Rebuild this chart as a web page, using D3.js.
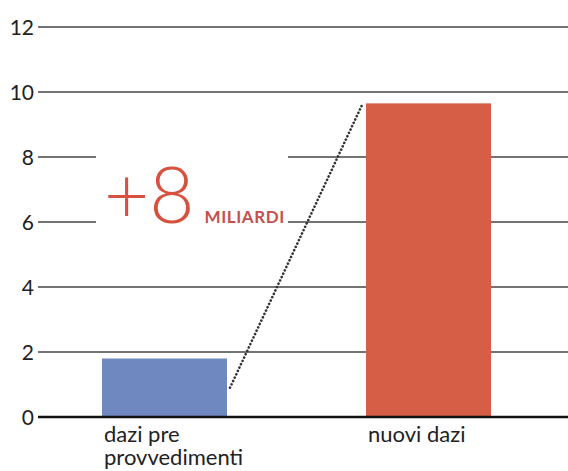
<!DOCTYPE html>
<html>
<head>
<meta charset="utf-8">
<script src="https://cdn.jsdelivr.net/npm/d3@7"></script>
<style>
  body { margin: 0; background: #fff; }
  svg { display: block; }
  text { font-family: Lato, "Open Sans", sans-serif; }
  .tick-label { font-size: 21px; fill: #222; font-weight: 400; }
  .cat-label { font-size: 22px; fill: #222; font-weight: 400; }
  .grid { stroke: #444; stroke-width: 1.5; }
  .base-line { stroke: #111; stroke-width: 2.5; }
  .connector { stroke: #333; stroke-width: 2.6; stroke-dasharray: 0.1 3.6; stroke-linecap: round; fill: none; }
</style>
</head>
<body>
<script>
var categories = ['dazi pre provvedimenti', 'nuovi dazi']
var labelLines = [['dazi pre', 'provvedimenti'], ['nuovi dazi']]
var values = [1.8, 9.65]
var colors = ['#7088c0', '#d65d46']
var yTicks = [0, 2, 4, 6, 8, 10, 12]
var connector = [0.9, 9.6]
var deltaText = '+8'
var unitText = 'MILIARDI'

var width = 568, height = 471
var margin = {left: 38, right: 0, top: 27, bottom: 54}

var svg = d3.select('body').append('svg')
  .attr('width', width)
  .attr('height', height)

var y = d3.scaleLinear()
  .domain([0, 12])
  .range([height - margin.bottom, margin.top])

var x = d3.scaleBand()
  .domain(categories)
  .range([102, 491])
  .paddingInner(0.5265)
  .paddingOuter(0)

// GRID
svg.append('g').selectAll('line')
  .data(yTicks.filter(function(d) { return d > 0 }))
  .enter().append('line')
  .attr('class', 'grid')
  .attr('x1', margin.left)
  .attr('x2', width)
  .attr('y1', function(d) { return y(d) })
  .attr('y2', function(d) { return y(d) })

svg.append('g').selectAll('text')
  .data(yTicks)
  .enter().append('text')
  .attr('class', 'tick-label')
  .attr('x', margin.left - 4)
  .attr('y', function(d) { return y(d) })
  .attr('dy', '0.36em')
  .attr('text-anchor', 'end')
  .text(function(d) { return d })

// white box behind the annotation
svg.append('rect')
  .attr('x', 96)
  .attr('y', y(8.5))
  .attr('width', 192)
  .attr('height', y(5.6) - y(8.5))
  .attr('fill', '#fff')

// BARS
svg.append('g').selectAll('rect')
  .data(categories)
  .enter().append('rect')
  .attr('x', function(d) { return x(d) })
  .attr('y', function(d, i) { return y(values[i]) })
  .attr('width', x.bandwidth())
  .attr('height', function(d, i) { return y(0) - y(values[i]) })
  .attr('fill', function(d, i) { return colors[i] })

// BASE LINE
svg.append('line')
  .attr('class', 'base-line')
  .attr('x1', margin.left)
  .attr('x2', width)
  .attr('y1', y(0))
  .attr('y2', y(0))

// CONNECTOR
svg.append('line')
  .attr('class', 'connector')
  .attr('x1', x(categories[0]) + x.bandwidth() + 3)
  .attr('y1', y(connector[0]))
  .attr('x2', x(categories[1]) - 4)
  .attr('y2', y(connector[1]))

// ANNOTATION
var note = svg.append('text')
  .attr('x', 104)
  .attr('y', y(6) + 1)
  .attr('fill', '#d8503e')
note.append('tspan')
  .style('font-size', '78px')
  .style('font-weight', 300)
  .text(deltaText)
note.append('tspan')
  .attr('dx', 10)
  .style('font-size', '17px')
  .style('font-weight', 700)
  .style('letter-spacing', '0.6px')
  .attr('fill', '#c64f4c')
  .text(unitText)

// CATEGORY LABELS
svg.append('g').selectAll('text')
  .data(categories)
  .enter().append('text')
  .attr('class', 'cat-label')
  .attr('x', function(d) { return x(d) + 2 })
  .attr('y', y(0) + 25)
  .each(function(d, i) {
    var t = d3.select(this)
    labelLines[i].forEach(function(line, j) {
      t.append('tspan')
        .attr('x', x(d) + 2)
        .attr('dy', j === 0 ? 0 : 23)
        .text(line)
    })
  })
</script>
</body>
</html>
